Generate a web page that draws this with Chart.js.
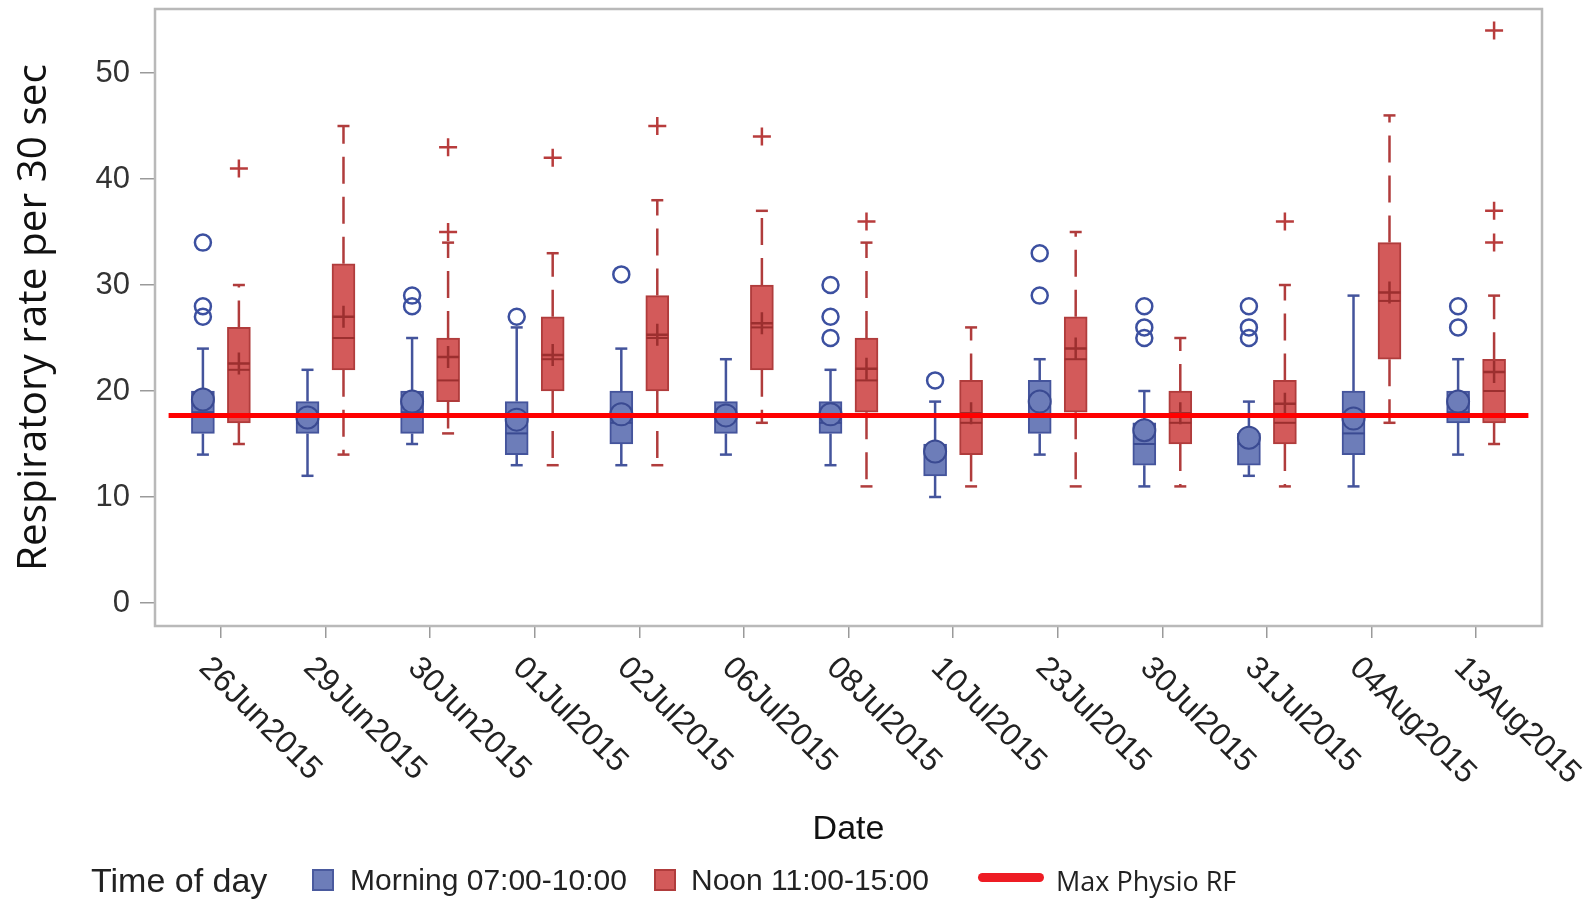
<!DOCTYPE html>
<html>
<head>
<meta charset="utf-8">
<title>Respiratory rate per 30 sec</title>
<script src="https://cdn.jsdelivr.net/npm/chart.js@4.4.1/dist/chart.umd.min.js"></script>
<style>
  body { margin: 0; background: #fff; }
  #wrap { position: relative; width: 1589px; height: 899px; }
  canvas { position: absolute; left: 0; top: 0; }
  .lg { position: absolute; top: 880px; transform: translateY(-50%); font-family: "Liberation Sans", Arial, sans-serif; font-size: 30px; color: #222; white-space: nowrap; line-height: 1; }
  .sw { position: absolute; top: 869px; width: 18px; height: 18px; border: 2px solid; }
</style>
</head>
<body>
<div id="wrap">
  <canvas id="chart" width="1589" height="899"></canvas>
  <span class="lg" style="left:91px;font-size:34px">Time of day</span>
  <span class="sw" style="left:312px;background:#6d7db9;border-color:#4a5a9e"></span>
  <span class="lg" style="left:350px">Morning 07:00-10:00</span>
  <span class="sw" style="left:654px;background:#d35a5a;border-color:#b03c3c"></span>
  <span class="lg" style="left:691px">Noon 11:00-15:00</span>
  <span style="position:absolute;left:978px;top:873px;width:66px;height:9px;border-radius:5px;background:#ee1c24"></span>
  <span class="lg" style="left:1056px;font-family:'Open Sans',sans-serif;font-size:27px">Max Physio RF</span>
</div>
<script>
const dates = ['26Jun2015', '29Jun2015', '30Jun2015', '01Jul2015', '02Jul2015', '06Jul2015', '08Jul2015',
  '10Jul2015', '23Jul2015', '30Jul2015', '31Jul2015', '04Aug2015', '13Aug2015'];

// Morning 07:00-10:00
const morningMin = [14, 12, 15, 13, 13, 14, 13, 10, 14, 11, 12, 11, 14];
const morningQ1 = [16, 16, 16, 14, 15, 16, 16, 12, 16, 13, 13, 14, 17];
const morningMedian = [18, 17, 18, 16, 17, 18, 17, 14, 19, 15, 15, 16, 18];
const morningQ3 = [20, 19, 20, 19, 20, 19, 19, 15, 21, 17, 16, 20, 20];
const morningMax = [24, 22, 25, 26, 24, 23, 22, 19, 23, 20, 19, 29, 23];
const morningMean = [19.2, 17.5, 19, 17.3, 17.8, 17.7, 17.8, 14.3, 19, 16.3, 15.6, 17.4, 19];
const morningOutliers = [[34, 28, 27], [], [29, 28], [27], [31], [], [30, 27, 25], [21], [33, 29], [28, 26, 25], [28, 26, 25], [], [28, 26]];

// Noon 11:00-15:00
const noonMin = [15, 14, 16, 13, 13, 17, 11, 11, 11, 11, 11, 17, 15];
const noonQ1 = [17, 22, 19, 20, 20, 22, 18, 14, 18, 15, 15, 23, 17];
const noonMedian = [22, 25, 21, 23, 25, 26, 21, 17, 23, 17, 17, 28.5, 20];
const noonQ3 = [26, 32, 25, 27, 29, 30, 25, 21, 27, 20, 21, 34, 23];
const noonMax = [30, 45, 34, 33, 38, 37, 34, 26, 35, 25, 30, 46, 29];
const noonMean = [22.6, 27, 23.2, 23.4, 25.3, 26.4, 22.1, 17.9, 24, 17.9, 18.8, 29.3, 21.8];
const noonOutliers = [[41], [], [43, 35], [42], [45], [44], [36], [], [], [], [36], [], [54, 37, 34]];

const maxPhysioRF = 17.7;
const yTicks = [0, 10, 20, 30, 40, 50];

const OFF = 0.172; // half distance between the two boxes of a date
const mFill = '#6d7db9', mEdge = '#44549c', mDark = '#3a4a92';
const nFill = '#d35a5a', nEdge = '#b03c3c', nDark = '#9c2f2f';

const boxes = (dx, lo, hi) => dates.map((d, i) => ({ x: i + dx, y: [lo[i], hi[i]] }));
const pts = (dx, vals) => vals.map((v, i) => ({ x: i + dx, y: v }));
const caps = (dx, lo, hi) => dates.flatMap((d, i) => [{ x: i + dx, y: lo[i] }, { x: i + dx, y: hi[i] }]);
const outs = (dx, lists) => lists.flatMap((l, i) => l.map(v => ({ x: i + dx, y: v })));
const whiskers = (dx, mn, q1, q3, mx) => dates.flatMap((d, i) => {
  const x = i + dx;
  return [{ x, y: q3[i] }, { x, y: mx[i] }, { x, y: null }, { x, y: q1[i] }, { x, y: mn[i] }, { x, y: null }];
});

const framePlugin = {
  id: 'frame',
  afterDraw(chart) {
    const { ctx, chartArea: a, scales } = chart;
    ctx.save();
    ctx.strokeStyle = '#b9b9b9';
    ctx.lineWidth = 2.5;
    ctx.strokeRect(a.left, a.top, a.right - a.left, a.bottom - a.top);
    // rotated date labels
    ctx.fillStyle = '#222';
    ctx.font = '32px "Liberation Sans", Arial, sans-serif';
    ctx.textAlign = 'left';
    ctx.textBaseline = 'middle';
    dates.forEach((d, i) => {
      const x = scales.x.getPixelForValue(i);
      ctx.save();
      ctx.translate(x - 17, a.bottom + 37);
      ctx.rotate(Math.PI / 4);
      ctx.fillText(d, 0, 0);
      ctx.restore();
    });
    ctx.restore();
  }
};

Chart.defaults.font.family = '"Liberation Sans", Arial, sans-serif';

new Chart(document.getElementById('chart'), {
  type: 'bar',
  data: {
    datasets: [
      { type: 'line', data: whiskers(-OFF, morningMin, morningQ1, morningQ3, morningMax), borderColor: mEdge, borderWidth: 2.5, pointRadius: 0, spanGaps: false, order: 10 },
      { type: 'line', data: whiskers(OFF, noonMin, noonQ1, noonQ3, noonMax), borderColor: nEdge, borderWidth: 2.5, borderDash: [27, 13], pointRadius: 0, spanGaps: false, order: 10 },
      { type: 'scatter', data: caps(-OFF, morningMin, morningMax), pointStyle: 'line', pointRadius: 6, borderColor: mEdge, borderWidth: 2.5, order: 9 },
      { type: 'scatter', data: caps(OFF, noonMin, noonMax), pointStyle: 'line', pointRadius: 6, borderColor: nEdge, borderWidth: 2.5, order: 9 },
      { label: 'Morning 07:00-10:00', data: boxes(-OFF, morningQ1, morningQ3), backgroundColor: mFill, borderColor: mEdge, borderWidth: 2, borderSkipped: false, barThickness: 23, grouped: false, order: 8 },
      { label: 'Noon 11:00-15:00', data: boxes(OFF, noonQ1, noonQ3), backgroundColor: nFill, borderColor: nEdge, borderWidth: 2, borderSkipped: false, barThickness: 23, grouped: false, order: 8 },
      { type: 'scatter', data: pts(-OFF, morningMedian), pointStyle: 'line', pointRadius: 11, borderColor: mDark, borderWidth: 2, order: 7 },
      { type: 'scatter', data: pts(OFF, noonMedian), pointStyle: 'line', pointRadius: 11, borderColor: nDark, borderWidth: 2, order: 7 },
      { type: 'scatter', data: pts(-OFF, morningMean), pointStyle: 'circle', pointRadius: 11, backgroundColor: mFill, borderColor: mDark, borderWidth: 2, order: 6 },
      { type: 'scatter', data: pts(OFF, noonMean), pointStyle: 'cross', pointRadius: 11, borderColor: nDark, borderWidth: 2.5, order: 6 },
      { type: 'scatter', data: outs(-OFF, morningOutliers), pointStyle: 'circle', pointRadius: 8, backgroundColor: 'rgba(0,0,0,0)', borderColor: '#3c50a0', borderWidth: 2.5, order: 5 },
      { type: 'scatter', data: outs(OFF, noonOutliers), pointStyle: 'cross', pointRadius: 9, borderColor: '#b83c3c', borderWidth: 2.5, order: 5 },
      { type: 'line', label: 'Max Physio RF', data: [{ x: -0.5, y: maxPhysioRF }, { x: dates.length - 0.5, y: maxPhysioRF }], borderColor: '#ff0000', borderWidth: 5, pointRadius: 0, order: 0 }
    ]
  },
  options: {
    responsive: false,
    animation: false,
    events: [],
    layout: { autoPadding: false, padding: { left: 0, top: 9, right: 47, bottom: 49 } },
    plugins: { legend: { display: false }, tooltip: { enabled: false } },
    scales: {
      x: {
        type: 'linear', min: -0.63, max: dates.length - 0.37, offset: false,
        afterBuildTicks: s => { s.ticks = dates.map((d, i) => ({ value: i })); },
        afterFit: s => { s.height = 224; s.paddingLeft = 0; s.paddingRight = 0; },
        grid: { offset: false, drawOnChartArea: false, drawTicks: true, tickLength: 12, color: '#9a9a9a', lineWidth: 1.5 },
        border: { display: false },
        ticks: { display: false },
        title: { display: true, text: 'Date', color: '#111', font: { size: 34 }, padding: { top: 0, bottom: 0 } }
      },
      y: {
        type: 'linear', min: -2.17, max: 56.04,
        afterBuildTicks: s => { s.ticks = yTicks.map(v => ({ value: v })); },
        afterFit: s => { s.width = 155; s.paddingTop = 0; s.paddingBottom = 0; },
        grid: { drawOnChartArea: false, drawTicks: true, tickLength: 15, color: '#9a9a9a', lineWidth: 1.5 },
        border: { display: false },
        ticks: { color: '#333', font: { size: 31 }, padding: 10 },
        title: { display: true, text: 'Respiratory rate per 30 sec', color: '#111', font: { family: '"Open Sans", sans-serif', size: 40.5 }, padding: { top: 10, bottom: 0 } }
      }
    }
  },
  plugins: [framePlugin]
});
</script>
</body>
</html>
